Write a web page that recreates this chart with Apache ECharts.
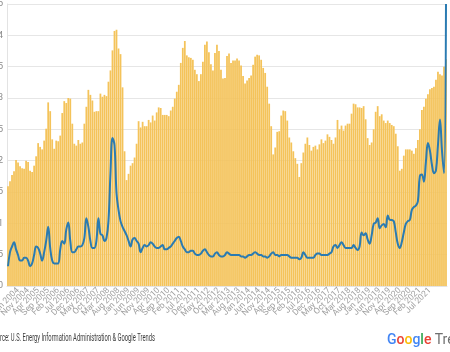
<!DOCTYPE html>
<html>
<head>
<meta charset="utf-8">
<script src="https://cdn.jsdelivr.net/npm/echarts@6/dist/echarts.min.js"></script>
<style>
  html, body { margin: 0; padding: 0; background: #fff; }
  #chart { width: 450px; height: 352px; }
</style>
</head>
<body>
<div id="chart"></div>
<script>
// monthly categories, Jan 2004 .. Mar 2022
const monthNames = ['Jan', 'Feb', 'Mar', 'Apr', 'May', 'Jun', 'Jul', 'Aug', 'Sep', 'Oct', 'Nov', 'Dec'];
const firstYear = 2004;
const monthCount = 219;
const months = [];
for (let i = 0; i < monthCount; i++) {
  months.push(monthNames[i % 12] + ' ' + (firstYear + Math.floor(i / 12)));
}

// average retail gasoline price, $ / gallon
const gasPrice = [
  1.59, 1.67, 1.77, 1.83, 2.01, 1.97, 1.91, 1.88, 1.87, 2.00, 1.98, 1.84, // 2004
  1.82, 1.92, 2.07, 2.28, 2.22, 2.18, 2.32, 2.51, 2.93, 2.79, 2.34, 2.19, // 2005
  2.32, 2.31, 2.40, 2.76, 2.95, 2.92, 3.00, 2.99, 2.59, 2.27, 2.24, 2.33, // 2006
  2.27, 2.29, 2.59, 2.86, 3.13, 3.05, 2.96, 2.78, 2.79, 2.79, 3.07, 3.02, // 2007
  3.05, 3.03, 3.26, 3.44, 3.76, 4.07, 4.09, 3.79, 3.70, 3.17, 2.15, 1.69, // 2008
  1.79, 1.92, 1.96, 2.05, 2.27, 2.63, 2.53, 2.62, 2.55, 2.55, 2.65, 2.61, // 2009
  2.72, 2.64, 2.77, 2.85, 2.84, 2.73, 2.73, 2.73, 2.71, 2.80, 2.86, 2.99, // 2010
  3.10, 3.21, 3.56, 3.80, 3.91, 3.68, 3.65, 3.64, 3.61, 3.45, 3.38, 3.27, // 2011
  3.38, 3.58, 3.85, 3.90, 3.73, 3.54, 3.44, 3.72, 3.85, 3.75, 3.45, 3.31, // 2012
  3.32, 3.67, 3.71, 3.56, 3.60, 3.60, 3.63, 3.60, 3.52, 3.35, 3.23, 3.28, // 2013
  3.32, 3.36, 3.53, 3.66, 3.69, 3.68, 3.61, 3.48, 3.40, 3.18, 2.91, 2.55, // 2014
  2.10, 2.21, 2.46, 2.47, 2.72, 2.80, 2.79, 2.64, 2.37, 2.29, 2.15, 2.04, // 2015
  1.95, 1.74, 1.96, 2.13, 2.27, 2.37, 2.25, 2.16, 2.22, 2.24, 2.18, 2.26, // 2016
  2.34, 2.28, 2.32, 2.42, 2.38, 2.33, 2.27, 2.37, 2.65, 2.50, 2.56, 2.48, // 2017
  2.56, 2.59, 2.59, 2.75, 2.91, 2.90, 2.85, 2.85, 2.84, 2.87, 2.66, 2.36, // 2018
  2.25, 2.29, 2.50, 2.78, 2.87, 2.71, 2.74, 2.64, 2.60, 2.64, 2.60, 2.57, // 2019
  2.55, 2.43, 2.23, 1.84, 1.87, 2.08, 2.18, 2.18, 2.18, 2.16, 2.11, 2.20, // 2020
  2.33, 2.50, 2.81, 2.86, 2.99, 3.06, 3.14, 3.16, 3.18, 3.29, 3.42, 3.38, // 2021
  3.36, 3.50, 3.62                                                        // 2022
];

// Google Trends search interest, 0-100
const searchInterest = [
  7, 12, 14, 15.5, 13, 11, 9, 9, 10, 10, 9, 7,                 // 2004
  8, 11, 14, 13.5, 11.5, 9, 12, 16, 21, 13.5, 9, 8,            // 2005
  8, 8, 13, 16, 15, 20, 22.5, 16, 12, 12, 13, 14,              // 2006
  14, 14.5, 17, 24, 21, 16, 13.5, 13.5, 16, 24, 18.5, 18,      // 2007
  16, 17, 23, 40, 52.5, 50, 33, 27, 23, 21, 19.5, 18,          // 2008
  16, 14, 16.5, 17, 16, 15, 12, 13.5, 14.5, 14, 14.5, 15.5,    // 2009
  15, 14, 13.5, 13.5, 14, 14.5, 13, 13, 13.5, 14, 15, 16,      // 2010
  17, 17.5, 16, 14, 13, 12, 12, 12.5, 12.5, 11.5, 11, 11,      // 2011
  11.5, 12.5, 13, 12, 11, 10.5, 10.5, 11.5, 12, 11, 10.5, 10.5, // 2012
  11, 12, 11.5, 11, 11, 11, 11, 11, 10.5, 10.5, 10, 10.5,      // 2013
  11, 11, 11.5, 12, 11.5, 11, 11, 10.5, 10.5, 10, 10.5, 11.5,  // 2014
  12, 11, 11, 10.5, 11, 11, 11, 11, 10.5, 10, 10, 10,          // 2015
  10, 9.5, 10, 12, 11, 10, 10, 10, 10, 11, 11.5, 11.5,         // 2016
  11, 11, 11, 11, 11.5, 12, 14, 14.5, 13.5, 14.5, 15.5, 14.5,  // 2017
  13.5, 13.5, 13.5, 13.5, 14.5, 13.5, 12.8, 14, 19, 18, 18.7, 16.5, // 2018
  15, 18, 22, 22.5, 24, 20.5, 21.5, 22, 20.8, 25, 23.5, 23.4,  // 2019
  23, 19, 15, 13.5, 15.6, 19, 22, 23, 23.4, 27, 28, 28.5,      // 2020
  30, 39, 39.5, 37, 44, 50.7, 48, 43, 40, 41, 50, 59,          // 2021
  48, 40, 100                                                  // 2022
];

const priceMax = 4.5;
const priceStep = 0.5;
const sourceText = 'Source: U.S. Energy Information Administration & Google Trends';

// squeeze the source line to the condensed width of the original
function measure(text, font) {
  const ctx = document.createElement('canvas').getContext('2d');
  ctx.font = font;
  return ctx.measureText(text).width;
}
const sourceFont = '10px Roboto';
const sourceScale = 155 / measure(sourceText.slice(3), sourceFont);

let chart = echarts.init(document.getElementById('chart'));

let option = {
  animation: false,
  grid: {
    left: 7,
    right: 3,
    top: 4,
    bottom: 66,
    containLabel: false,
    outerBoundsMode: 'none'
  },
  xAxis: {
    type: 'category',
    data: months,
    boundaryGap: true,
    axisLine: { show: true, lineStyle: { color: '#e3e3e3' } },
    axisTick: { show: false },
    axisLabel: {
      interval: 4,
      rotate: 45,
      fontSize: 8.5,
      fontFamily: 'Roboto',
      color: '#a0a0a0',
      margin: 3,
      hideOverlap: false
    }
  },
  yAxis: [{
    type: 'value',
    min: 0,
    max: priceMax,
    interval: priceStep,
    axisLine: { show: true, lineStyle: { color: '#e3e3e3' } },
    axisTick: { show: false },
    splitLine: { lineStyle: { color: '#e6e6e6' } },
    axisLabel: {
      margin: 4,
      fontSize: 9,
      fontFamily: 'Roboto',
      color: '#8a8a8a',
      formatter: v => '$' + v
    }
  }, {
    type: 'value',
    min: 0,
    max: 100,
    show: false
  }],
  series: [{
    name: 'Gas price',
    type: 'bar',
    data: gasPrice,
    barCategoryGap: '12%',
    itemStyle: { color: '#F4C35A' }
  }, {
    name: 'Search interest',
    type: 'line',
    yAxisIndex: 1,
    data: searchInterest,
    smooth: 0.4,
    showSymbol: false,
    lineStyle: { color: '#2A7BB2', width: 2 },
    itemStyle: { color: '#2A7BB2' }
  }],
  graphic: [{
    type: 'text',
    x: 155,
    y: 338,
    scaleX: sourceScale,
    style: {
      text: sourceText,
      font: sourceFont,
      fill: '#3c3c3c',
      align: 'right',
      verticalAlign: 'middle'
    }
  }, {
    type: 'text',
    x: 387,
    y: 340,
    style: {
      text: '{b|G}{r|o}{y|o}{b|g}{g|l}{r|e} {t|Trends}',
      verticalAlign: 'middle',
      rich: {
        b: { fill: '#4285F4', font: '500 14px Roboto' },
        r: { fill: '#EA4335', font: '500 14px Roboto' },
        y: { fill: '#FBBC05', font: '500 14px Roboto' },
        g: { fill: '#34A853', font: '500 14px Roboto' },
        t: { fill: '#6f6f6f', font: '14px Roboto' }
      }
    }
  }]
};

chart.setOption(option);
</script>
</body>
</html>
